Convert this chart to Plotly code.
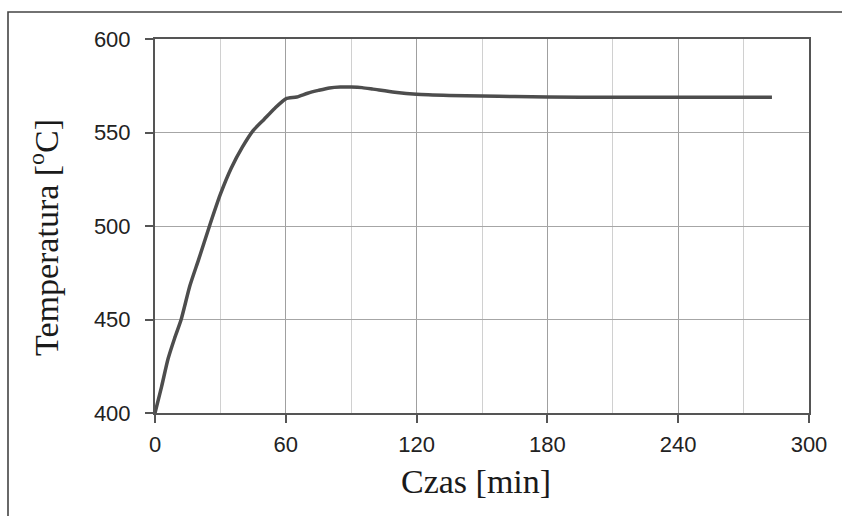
import plotly.graph_objects as go

# Data
czas_min = [0, 3, 6, 9, 12, 16, 20, 25, 30, 35, 40, 45, 50, 55, 60, 65, 70, 75, 80,
            85, 90, 95, 100, 110, 120, 135, 150, 165, 180, 210, 240, 270, 283]
temperatura_c = [400, 414, 429, 440, 450, 468, 482, 500, 517, 531, 542, 551, 557, 563, 568,
                 569, 571, 572.5, 573.8, 574.3, 574.3, 574, 573.2, 571.5, 570.4, 569.8,
                 569.5, 569.2, 569, 568.8, 568.8, 568.8, 568.8]

x_ticks = [0, 60, 120, 180, 240, 300]
y_ticks = [400, 450, 500, 550, 600]

W, H = 842, 516
L, R, T, B = 155, 33, 39, 103
pw, ph = W - L - R, H - T - B


def px(xp):
    return (xp - L) / pw


def py(yp):
    return (H - B - yp) / ph


fig = go.Figure()
fig.add_trace(go.Scatter(
    x=czas_min, y=temperatura_c, mode="lines",
    line=dict(color="#4d4d4d", width=3.5, shape="spline", smoothing=0.6),
    showlegend=False, hoverinfo="x+y",
))

tick_font = dict(family="Liberation Sans, Arial, sans-serif", size=22, color="#222222")
title_font = dict(family="Liberation Serif, Times New Roman, serif", size=34, color="#1a1a1a")

fig.update_layout(
    width=W, height=H,
    margin=dict(l=L, r=R, t=T, b=B),
    paper_bgcolor="white", plot_bgcolor="white",
    xaxis=dict(
        range=[0, 300], tickvals=x_ticks, ticktext=[str(v) for v in x_ticks],
        showgrid=True, gridcolor="#a0a0a0", gridwidth=1.3,
        minor=dict(dtick=30, tick0=0, showgrid=True, gridcolor="#d0d0d0", gridwidth=1.3, ticks=""),
        ticks="outside", ticklen=8, tickwidth=1.5, tickcolor="#555555",
        showline=True, linecolor="#555555", linewidth=2, mirror=True,
        tickfont=tick_font, zeroline=False, ticklabelstandoff=3,
    ),
    yaxis=dict(
        range=[400, 600], tickvals=y_ticks, ticktext=[str(v) for v in y_ticks],
        showgrid=True, gridcolor="#a6a6a6", gridwidth=1.3,
        ticks="outside", ticklen=8, tickwidth=1.5, tickcolor="#555555",
        showline=True, linecolor="#555555", linewidth=2, mirror=True,
        tickfont=tick_font, zeroline=False, ticklabelstandoff=10,
    ),
    annotations=[
        dict(text="Czas [min]", xref="paper", yref="paper", x=px(476), y=py(481),
             xanchor="center", yanchor="middle", showarrow=False, font=title_font),
        dict(text="Temperatura [<sup>o</sup>C]", xref="paper", yref="paper", x=px(44), y=py(238),
             xanchor="center", yanchor="middle", textangle=-90, showarrow=False, font=title_font),
    ],
    shapes=[
        dict(type="rect", xref="paper", yref="paper",
             x0=px(8), x1=px(850), y0=py(530), y1=py(12),
             line=dict(color="#444444", width=1.6), fillcolor="rgba(0,0,0,0)", layer="below"),
    ],
)

fig.write_html(
    "out.html",
    config={"displayModeBar": False},
    post_script="document.body.style.margin='0px';document.body.style.overflow='hidden';",
)
